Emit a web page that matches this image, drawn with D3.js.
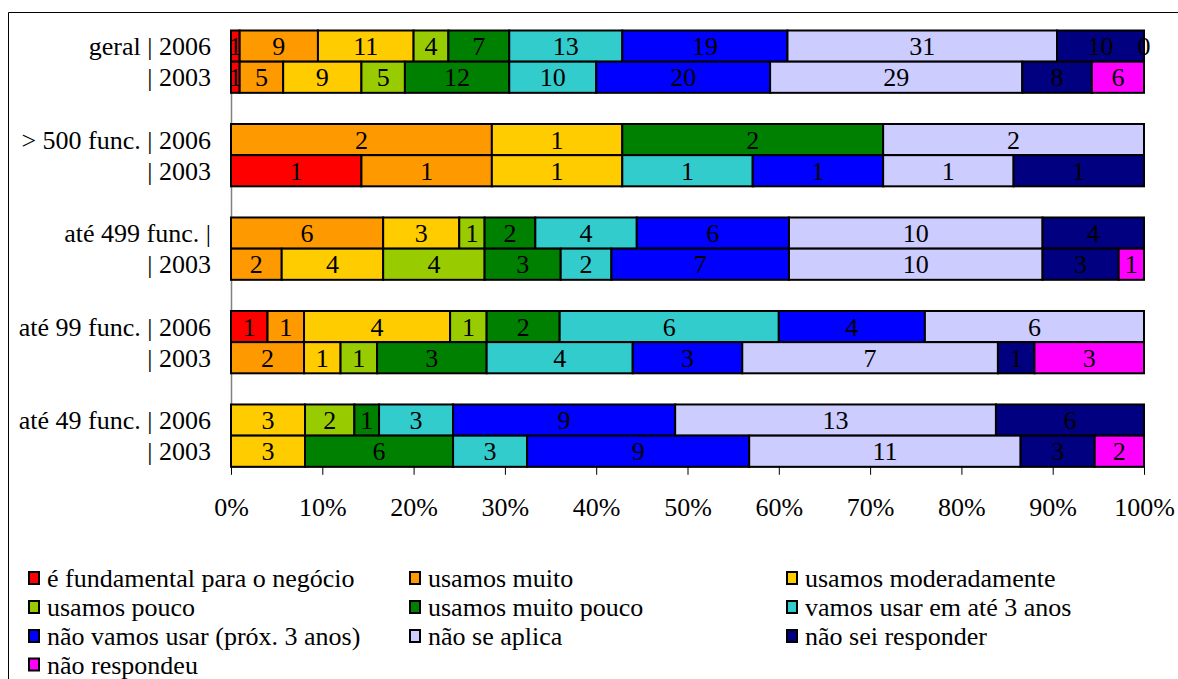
<!DOCTYPE html>
<html>
<head>
<meta charset="utf-8">
<script src="https://cdn.jsdelivr.net/npm/d3@7"></script>
<style>
  html, body { margin: 0; padding: 0; background: #fff; }
  svg { display: block; }
</style>
</head>
<body>
<svg id="chart" width="1178" height="679"></svg>
<script>
// Answer categories (stack order, left to right)
const seriesNames = [
  "é fundamental para o negócio",
  "usamos muito",
  "usamos moderadamente",
  "usamos pouco",
  "usamos muito pouco",
  "vamos usar em até 3 anos",
  "não vamos usar (próx. 3 anos)",
  "não se aplica",
  "não sei responder",
  "não respondeu"
];
const seriesColors = [
  "#FF0000", "#FF9900", "#FFCC00", "#99CC00", "#008000",
  "#33CCCC", "#0000FF", "#CCCCFF", "#000080", "#FF00FF"
];

// Row labels, top to bottom; empty strings are spacer rows between groups
const rowLabels = [
  "geral | 2006", "| 2003", "",
  "> 500 func. | 2006", "| 2003", "",
  "até 499 func. |", "| 2003", "",
  "até 99 func. | 2006", "| 2003", "",
  "até 49 func. | 2006", "| 2003"
];

// Counts per row, one entry per answer category (null = no answer cell)
const geral2006   = [1, 9, 11, 4, 7, 13, 19, 31, 10, 0];
const geral2003   = [1, 5, 9, 5, 12, 10, 20, 29, 8, 6];
const f500_2006   = [null, 2, 1, null, 2, null, null, 2, null, null];
const f500_2003   = [1, 1, 1, null, null, 1, 1, 1, 1, null];
const f499_2006   = [null, 6, 3, 1, 2, 4, 6, 10, 4, null];
const f499_2003   = [null, 2, 4, 4, 3, 2, 7, 10, 3, 1];
const f99_2006    = [1, 1, 4, 1, 2, 6, 4, 6, null, null];
const f99_2003    = [null, 2, 1, 1, 3, 4, 3, 7, 1, 3];
const f49_2006    = [null, null, 3, 2, 1, 3, 9, 13, 6, null];
const f49_2003    = [null, null, 3, null, 6, 3, 9, 11, 3, 2];

const rowValues = [
  geral2006, geral2003, null,
  f500_2006, f500_2003, null,
  f499_2006, f499_2003, null,
  f99_2006, f99_2003, null,
  f49_2006, f49_2003
];

const tickValues = [0, 0.1, 0.2, 0.3, 0.4, 0.5, 0.6, 0.7, 0.8, 0.9, 1];

const FONT = "Liberation Serif";
const FONT_SIZE = "26px";

function serif(sel) {
  return sel.style("font-family", FONT).style("font-size", FONT_SIZE).style("fill", "#000");
}

const svg = d3.select("#chart");
const W = 1178, H = 679;
const plot = { left: 231, right: 1144, top: 30.5, bottom: 466.8 };

// Outer frame (top and left edges)
svg.append("line").attr("x1", 8.5).attr("x2", W).attr("y1", 12.5).attr("y2", 12.5)
  .attr("stroke", "#000").attr("stroke-width", 1);
svg.append("line").attr("x1", 8.5).attr("x2", 8.5).attr("y1", 12.5).attr("y2", H)
  .attr("stroke", "#000").attr("stroke-width", 1);

const x = d3.scaleLinear().domain([0, 1]).range([plot.left, plot.right]);
const y = d3.scaleBand().domain(d3.range(rowLabels.length)).range([plot.top, plot.bottom]).padding(0);

// Build stacked segments as shares of each row's total
const segments = [];
rowValues.forEach((vals, r) => {
  if (!vals) return;
  const total = d3.sum(vals, v => v || 0);
  let acc = 0;
  vals.forEach((v, s) => {
    if (v === null) return;
    const x0 = acc / total;
    acc += v;
    segments.push({ row: r, series: s, value: v, x0, x1: acc / total });
  });
});

// Left category axis line
svg.append("line")
  .attr("x1", plot.left + 0.5).attr("x2", plot.left + 0.5)
  .attr("y1", plot.top).attr("y2", plot.bottom)
  .attr("stroke", "#808080").attr("stroke-width", 1.5);

// Bottom value axis
const xAxis = d3.axisBottom(x).tickValues(tickValues).tickFormat(d3.format(".0%"))
  .tickSizeInner(8).tickSizeOuter(0).tickPadding(23);
const gx = svg.append("g").attr("transform", `translate(0,${plot.bottom})`).call(xAxis);
gx.select(".domain").attr("stroke", "#808080");
gx.selectAll(".tick line").attr("stroke", "#000");
serif(gx.selectAll(".tick text"));

// Bars
svg.append("g").selectAll("rect").data(segments.filter(d => d.value > 0)).join("rect")
  .attr("x", d => x(d.x0))
  .attr("y", d => y(d.row))
  .attr("width", d => x(d.x1) - x(d.x0))
  .attr("height", y.bandwidth())
  .attr("fill", d => seriesColors[d.series])
  .attr("stroke", "#000")
  .attr("stroke-width", 2);

// Value labels centred in each segment
serif(svg.append("g").selectAll("text").data(segments).join("text")
  .attr("x", d => (x(d.x0) + x(d.x1)) / 2)
  .attr("y", d => y(d.row) + y.bandwidth() / 2)
  .attr("dy", "0.35em")
  .attr("text-anchor", "middle")
  .text(d => d.value));

// Row labels
serif(svg.append("g")
  .selectAll("text").data(rowLabels.map((t, i) => ({ t, i })).filter(d => d.t)).join("text")
  .attr("x", plot.left - 20)
  .attr("y", d => y(d.i) + y.bandwidth() / 2)
  .attr("dy", "0.35em")
  .attr("text-anchor", "end")
  .text(d => d.t));

// Legend: three columns, row-major
const legendCols = [28, 409, 786];
const legendRowY = [578, 607, 636, 664.5];
const lg = svg.append("g")
  .selectAll("g").data(seriesNames).join("g")
  .attr("transform", (d, i) => `translate(${legendCols[i % 3]},${legendRowY[Math.floor(i / 3)]})`);
lg.append("rect")
  .attr("x", 1).attr("y", -6).attr("width", 10).attr("height", 12)
  .attr("fill", (d, i) => seriesColors[i])
  .attr("stroke", "#000").attr("stroke-width", 2);
serif(lg.append("text")
  .attr("x", 19).attr("y", 0).attr("dy", "0.35em")
  .text(d => d));
</script>
</body>
</html>
